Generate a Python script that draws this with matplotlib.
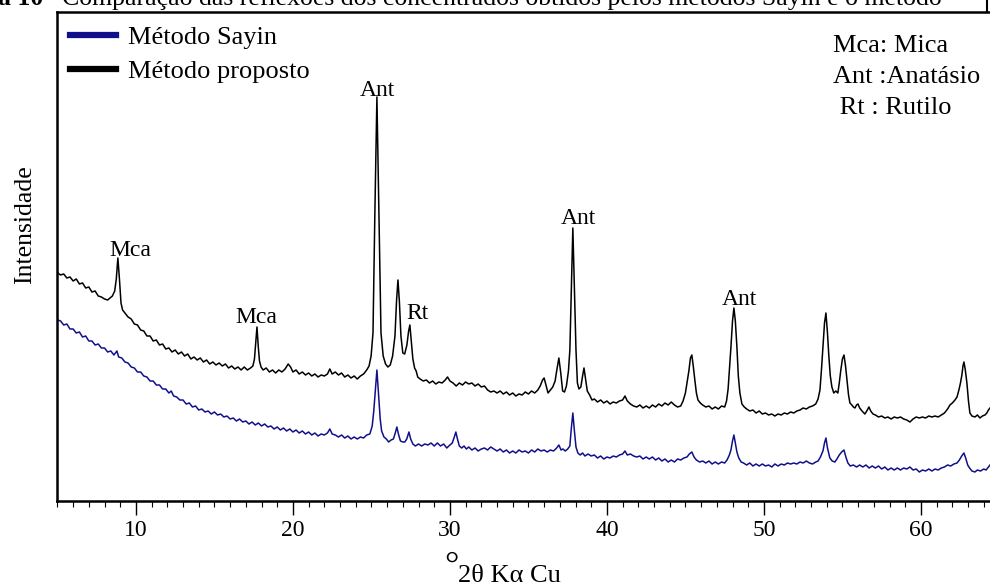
import matplotlib
matplotlib.use("Agg")
import matplotlib.pyplot as plt
from matplotlib.ticker import MultipleLocator
from matplotlib.lines import Line2D

plt.rcParams['font.family'] = ['Liberation Serif', 'DejaVu Serif']

x_proposto = [5.03, 5.2, 5.4, 5.6, 5.8, 6.0, 6.2, 6.4, 6.6, 6.8, 7.0, 7.2, 7.4, 7.6, 7.8, 8.0,
              8.2, 8.35, 8.5, 8.65, 8.75, 8.85, 8.95, 9.05, 9.15, 9.3, 9.5, 9.7, 9.9, 10.1,
              10.3, 10.5, 10.7, 10.9, 11.1, 11.3, 11.5, 11.7, 11.9, 12.1, 12.3, 12.5, 12.7,
              12.9, 13.1, 13.3, 13.5, 13.7, 13.9, 14.1, 14.3, 14.5, 14.7, 14.9, 15.1, 15.3,
              15.5, 15.7, 15.9, 16.1, 16.3, 16.5, 16.7, 16.9, 17.1, 17.3, 17.45, 17.55,
              17.63, 17.71, 17.79, 17.87, 17.97, 18.1, 18.3, 18.5, 18.7, 18.9, 19.1, 19.3,
              19.5, 19.7, 19.85, 20.0, 20.2, 20.4, 20.6, 20.8, 21.0, 21.2, 21.4, 21.6, 21.8,
              22.0, 22.2, 22.35, 22.5, 22.7, 22.9, 23.1, 23.3, 23.5, 23.7, 23.9, 24.1, 24.3,
              24.5, 24.7, 24.85, 24.98, 25.1, 25.22, 25.35, 25.48, 25.61, 25.75, 25.9, 26.05,
              26.2, 26.35, 26.5, 26.6, 26.69, 26.78, 26.88, 27.0, 27.12, 27.26, 27.37, 27.45,
              27.55, 27.64, 27.75, 27.85, 27.95, 28.1, 28.3, 28.5, 28.7, 28.9, 29.1, 29.3,
              29.5, 29.7, 29.85, 30.0, 30.2, 30.4, 30.6, 30.8, 31.0, 31.2, 31.4, 31.6, 31.8,
              32.0, 32.2, 32.4, 32.6, 32.8, 33.0, 33.2, 33.4, 33.6, 33.8, 34.0, 34.2, 34.4,
              34.6, 34.8, 35.0, 35.2, 35.4, 35.6, 35.75, 35.9, 36.0, 36.12, 36.25, 36.4,
              36.55, 36.7, 36.82, 36.94, 37.06, 37.18, 37.3, 37.42, 37.55, 37.64, 37.73,
              37.83, 37.93, 38.03, 38.12, 38.22, 38.34, 38.45, 38.54, 38.64, 38.75, 38.9,
              39.05, 39.2, 39.4, 39.6, 39.8, 40.0, 40.2, 40.4, 40.6, 40.8, 41.0, 41.15, 41.3,
              41.5, 41.7, 41.9, 42.1, 42.3, 42.5, 42.7, 42.9, 43.1, 43.3, 43.5, 43.7, 43.9,
              44.1, 44.3, 44.5, 44.7, 44.85, 45.0, 45.12, 45.22, 45.32, 45.41, 45.5, 45.6,
              45.7, 45.8, 45.95, 46.1, 46.3, 46.5, 46.7, 46.9, 47.1, 47.3, 47.5, 47.62,
              47.72, 47.82, 47.9, 48.0, 48.09, 48.18, 48.28, 48.37, 48.47, 48.6, 48.75,
              48.9, 49.1, 49.3, 49.5, 49.7, 49.9, 50.1, 50.3, 50.5, 50.7, 50.9, 51.1, 51.3,
              51.5, 51.7, 51.9, 52.1, 52.3, 52.5, 52.7, 52.9, 53.1, 53.3, 53.45, 53.57,
              53.66, 53.76, 53.86, 53.95, 54.04, 54.14, 54.23, 54.33, 54.45, 54.58, 54.71,
              54.8, 54.9, 55.0, 55.1, 55.2, 55.29, 55.39, 55.48, 55.6, 55.7, 55.8, 55.9,
              55.99, 56.1, 56.25, 56.43, 56.55, 56.69, 56.8, 56.95, 57.1, 57.3, 57.5, 57.7,
              57.9, 58.1, 58.3, 58.5, 58.7, 58.9, 59.1, 59.3, 59.5, 59.7, 59.9, 60.1, 60.3,
              60.5, 60.7, 60.9, 61.1, 61.3, 61.5, 61.7, 61.85, 62.0, 62.17, 62.3, 62.42,
              62.52, 62.61, 62.68, 62.74, 62.82, 62.93, 63.03, 63.12, 63.25, 63.44, 63.6,
              63.76, 63.92, 64.08, 64.2, 64.3, 64.4]
y_proposto = [228, 226, 227, 223, 224, 220, 222, 217, 218, 213, 214, 209, 210, 205, 204, 202,
              201, 203, 205, 210, 222, 243, 222, 198, 191, 188, 184, 182, 177, 176,
              171, 170, 165, 165, 160, 161, 156, 157, 152, 153, 149, 151, 147,
              149, 145, 147, 142, 144, 141, 143, 139, 141, 137, 139, 136, 138,
              135, 137, 133, 135, 132, 134, 131, 134, 131, 133, 135, 142,
              158, 174, 155, 140, 134, 131, 133, 129, 131, 128, 131, 129,
              132, 137, 134, 129, 131, 127, 129, 126, 128, 125, 127, 124, 126,
              125, 127, 132, 127, 129, 126, 128, 124, 126, 123, 125, 122, 125,
              127, 131, 135, 145, 168, 288, 404, 288, 168, 145, 137, 134,
              136, 145, 165, 200, 221, 200, 165, 148, 147, 156, 170, 176,
              158, 142, 133, 130, 124, 122, 120, 121, 118, 120, 117, 119,
              118, 121, 124, 120, 118, 115, 118, 116, 119, 117, 118, 115, 117,
              114, 115, 111, 109, 110, 108, 110, 107, 109, 106, 108, 105, 107,
              106, 109, 107, 110, 108, 111, 115, 121, 123, 116, 108, 111,
              114, 120, 132, 143, 128, 110, 109, 115, 130, 151, 210,
              273, 210, 151, 118, 112, 114, 125, 133, 122, 110, 106,
              101, 102, 99, 101, 98, 100, 97, 99, 98, 100, 101, 105, 100,
              97, 95, 94, 96, 93, 95, 93, 96, 94, 97, 95, 98, 96,
              99, 96, 94, 95, 100, 108, 120, 130, 143, 146, 135, 121,
              108, 101, 98, 96, 94, 95, 92, 94, 92, 95, 94, 100,
              112, 135, 154, 180, 193, 180, 154, 125, 108, 97, 94,
              92, 90, 91, 88, 90, 87, 88, 86, 87, 85, 87, 86, 88,
              87, 89, 88, 90, 91, 93, 92, 94, 95, 97, 102, 111,
              130, 154, 178, 188, 170, 144, 125, 114, 108, 110, 108,
              118, 131, 142, 146, 135, 121, 106, 98, 96, 94, 93, 96,
              97, 93, 90, 87, 90, 94, 90, 87, 86, 84, 85, 83,
              84, 82, 84, 83, 84, 82, 81, 79, 82, 84, 83, 84, 83,
              85, 84, 85, 84, 86, 88, 92, 96, 98, 101, 104, 111,
              118, 126, 135, 139, 132, 118, 100, 88, 85, 84, 86,
              83, 85, 86, 88, 91, 93]

x_sayin = [5.03, 5.2, 5.4, 5.6, 5.8, 6.0, 6.2, 6.4, 6.6, 6.8, 7.0, 7.2, 7.4, 7.6, 7.8, 8.0,
           8.2, 8.4, 8.6, 8.79, 8.9, 9.1, 9.3, 9.5, 9.7, 9.9, 10.1, 10.3, 10.5, 10.7, 10.9,
           11.1, 11.3, 11.5, 11.7, 11.9, 12.1, 12.25, 12.4, 12.6, 12.8, 13.0, 13.2, 13.4,
           13.6, 13.8, 14.0, 14.2, 14.4, 14.6, 14.8, 15.0, 15.2, 15.4, 15.6, 15.8, 16.0,
           16.2, 16.4, 16.6, 16.8, 17.0, 17.2, 17.4, 17.6, 17.8, 18.0, 18.2, 18.4, 18.6,
           18.8, 19.0, 19.2, 19.4, 19.6, 19.8, 20.0, 20.2, 20.4, 20.6, 20.8, 21.0, 21.2,
           21.4, 21.6, 21.8, 22.0, 22.2, 22.35, 22.5, 22.7, 22.9, 23.1, 23.3, 23.5, 23.7,
           23.9, 24.1, 24.3, 24.5, 24.7, 24.9, 25.05, 25.15, 25.22, 25.35, 25.48, 25.56,
           25.65, 25.8, 25.95, 26.1, 26.25, 26.4, 26.52, 26.62, 26.72, 26.85, 27.0, 27.13,
           27.25, 27.39, 27.5, 27.64, 27.8, 28.0, 28.2, 28.4, 28.6, 28.8, 29.0, 29.2, 29.4,
           29.6, 29.8, 30.0, 30.15, 30.28, 30.38, 30.48, 30.6, 30.75, 30.9, 31.05, 31.2,
           31.4, 31.6, 31.8, 32.0, 32.2, 32.4, 32.6, 32.8, 33.0, 33.2, 33.4, 33.6, 33.8,
           34.0, 34.2, 34.4, 34.6, 34.8, 35.0, 35.2, 35.4, 35.6, 35.8, 36.0, 36.2, 36.4,
           36.6, 36.8, 36.94, 37.08, 37.2, 37.35, 37.5, 37.64, 37.73, 37.83, 37.93, 38.03,
           38.15, 38.3, 38.45, 38.6, 38.8, 39.0, 39.2, 39.4, 39.6, 39.8, 40.0, 40.2, 40.4,
           40.6, 40.8, 41.0, 41.15, 41.3, 41.5, 41.7, 41.9, 42.1, 42.3, 42.5, 42.7, 42.9,
           43.1, 43.3, 43.5, 43.7, 43.9, 44.1, 44.3, 44.5, 44.7, 44.9, 45.1, 45.25, 45.41,
           45.55, 45.7, 45.9, 46.1, 46.3, 46.5, 46.7, 46.9, 47.1, 47.3, 47.5, 47.65, 47.8,
           47.9, 48.0, 48.09, 48.18, 48.28, 48.4, 48.55, 48.7, 48.9, 49.1, 49.3, 49.5,
           49.7, 49.9, 50.1, 50.3, 50.5, 50.7, 50.9, 51.1, 51.3, 51.5, 51.7, 51.9, 52.1,
           52.3, 52.5, 52.7, 52.9, 53.1, 53.3, 53.45, 53.6, 53.76, 53.86, 53.95, 54.05,
           54.2, 54.35, 54.52, 54.65, 54.8, 54.95, 55.1, 55.22, 55.35, 55.5, 55.7, 55.9,
           56.1, 56.3, 56.5, 56.7, 56.9, 57.1, 57.3, 57.5, 57.7, 57.9, 58.1, 58.3, 58.5,
           58.7, 58.9, 59.1, 59.3, 59.5, 59.7, 59.9, 60.1, 60.3, 60.5, 60.7, 60.9, 61.1,
           61.3, 61.5, 61.7, 61.9, 62.1, 62.3, 62.45, 62.6, 62.74, 62.85, 62.98, 63.1,
           63.25, 63.44, 63.6, 63.8, 64.0, 64.15, 64.3, 64.4]
y_sayin = [181, 180, 176, 177, 172, 172, 168, 169, 164, 165, 160, 160, 156, 157, 153, 153,
           149, 150, 146, 150, 144, 143, 139, 138, 134, 133, 129, 129, 125, 124, 120,
           120, 116, 116, 112, 112, 108, 110, 105, 104, 101, 101, 97, 98,
           94, 95, 91, 92, 89, 90, 87, 89, 86, 87, 84, 85, 82,
           83, 80, 82, 79, 80, 77, 79, 76, 78, 75, 77, 74, 75,
           72, 74, 71, 73, 70, 72, 69, 71, 68, 70, 67, 69, 66,
           68, 65, 67, 66, 68, 72, 67, 66, 64, 66, 63, 65, 62,
           64, 62, 64, 63, 66, 67, 75, 90, 104, 131, 101, 82,
           70, 64, 62, 59, 61, 62, 68, 74, 67, 60, 59, 59,
           62, 69, 62, 57, 55, 57, 55, 57, 56, 58, 55, 58, 55,
           57, 53, 56, 58, 64, 69, 62, 55, 53, 55, 52, 54,
           51, 53, 50, 52, 53, 51, 54, 52, 50, 52, 49, 51, 48,
           50, 48, 51, 49, 50, 48, 51, 49, 52, 50, 51, 49, 51,
           50, 53, 56, 51, 52, 50, 52, 55, 72, 88, 70, 54,
           48, 46, 48, 45, 47, 45, 46, 43, 45, 42, 44, 43, 45,
           44, 46, 47, 50, 46, 47, 45, 44, 45, 42, 44, 42, 44,
           41, 43, 40, 42, 39, 41, 39, 42, 41, 43, 44, 47, 49,
           44, 41, 39, 40, 38, 40, 37, 39, 37, 39, 38, 41, 46,
           51, 60, 66, 58, 49, 43, 39, 38, 36, 38, 35, 37,
           35, 37, 35, 36, 34, 37, 35, 37, 36, 38, 37, 38, 37,
           39, 38, 40, 38, 37, 39, 40, 44, 50, 58, 63, 53,
           43, 40, 39, 42, 46, 49, 51, 44, 38, 35, 36, 34,
           36, 34, 36, 33, 35, 33, 35, 32, 34, 31, 33, 31, 33,
           31, 33, 32, 34, 31, 32, 29, 31, 30, 32, 30, 32, 31,
           33, 34, 36, 35, 37, 38, 41, 45, 48, 43, 36, 33,
           30, 29, 31, 30, 32, 31, 34, 36]

legenda = ['Método Sayin', 'Método proposto']
cores = ['#10108a', 'black']

picos_txt = ['Mca', 'Mca', 'Ant', 'Rt', 'Ant', 'Ant']
picos_x = [9.62, 17.65, 25.35, 27.96, 38.16, 48.44]
picos_y = [250, 183, 410, 187, 282, 201]

fases = ['Mca: Mica', 'Ant :Anatásio', ' Rt : Rutilo']

fig = plt.figure(figsize=(9.9, 5.87), dpi=100)
ax = fig.add_axes([0.058, 0.1465, 0.9515, 0.8331])

ax.plot(x_sayin, y_sayin, color=cores[0], lw=1.1)
ax.plot(x_proposto, y_proposto, color=cores[1], lw=1.1)

ax.set_xlim(5, 65)
ax.set_ylim(0, 489)
ax.xaxis.set_major_locator(MultipleLocator(10))
ax.xaxis.set_minor_locator(MultipleLocator(1))
ax.tick_params(axis='x', which='major', direction='out', length=10, width=1, labelsize=17, pad=4)
ax.tick_params(axis='x', which='minor', direction='out', length=4, width=0.8)
ax.set_yticks([])
for s in ax.spines.values():
    s.set_linewidth(1.8)

for t, xx, yy in zip(picos_txt, picos_x, picos_y):
    ax.text(xx, yy, t, fontsize=17, ha='center', va='center')

for i, t in enumerate(fases):
    ax.text(54.39, 455 - i * 31, t, fontsize=19, ha='left', va='center')

handles = [Line2D([], [], color=c, lw=4.5) for c in cores]
ax.legend(handles, legenda, loc='upper left', bbox_to_anchor=(0.013, 0.972),
          frameon=False, fontsize=19, handlelength=1.75, handletextpad=0.45,
          labelspacing=0.4, borderaxespad=0, borderpad=0)

fig.text(25 / 990, 1 - 225 / 587, 'Intensidade', rotation=90, fontsize=18.5,
         ha='center', va='center')
fig.text(451 / 990, 1 - 567 / 587, '°', fontsize=26, ha='center', va='center')
fig.text(458 / 990, 1 - 576 / 587, '2θ Kα Cu', fontsize=19, ha='left', va='center')

# titulo cortado no topo da imagem
fig.text(-2 / 990, 1 - 5 / 587, 'a 10', fontsize=18.5, fontweight='bold',
         ha='left', va='baseline')
fig.text(47 / 990, 1 - 5 / 587,
         '- Comparação das reflexões dos concentrados obtidos pelos métodos Sayin e o método',
         fontsize=18.5, ha='left', va='baseline')
fig.add_artist(Line2D([987 / 990, 987 / 990], [1, 1 - 12 / 587], color='black', lw=1.5))

fig.savefig('out.png', dpi=100)
